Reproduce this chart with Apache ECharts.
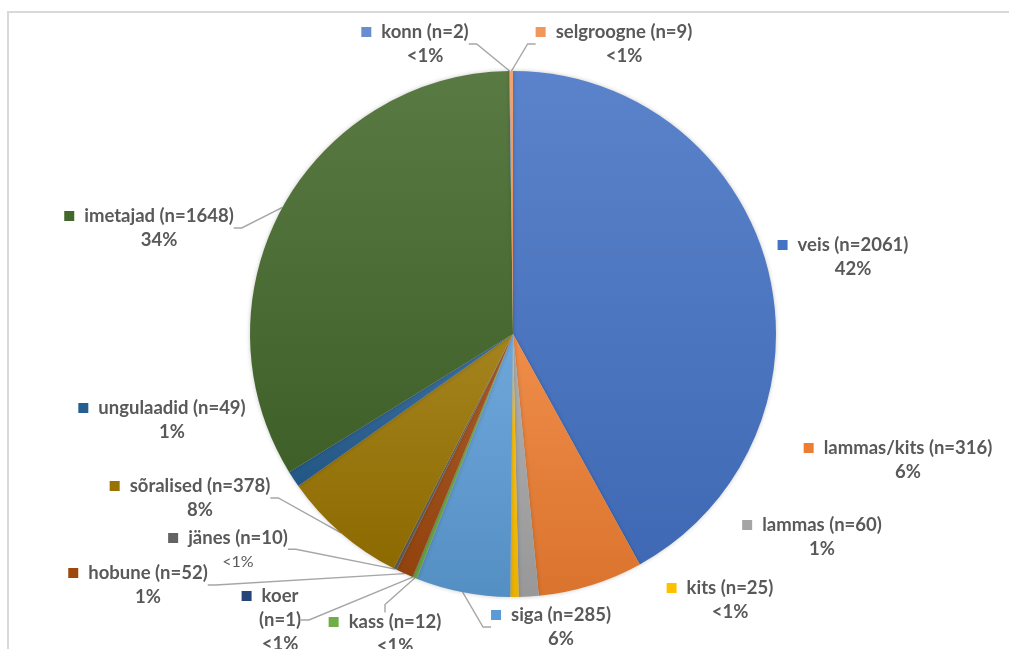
<!DOCTYPE html>
<html><head><meta charset="utf-8">
<script src="https://cdn.jsdelivr.net/npm/echarts@6/dist/echarts.min.js"></script>
<style>html,body{margin:0;padding:0;background:#fff}#c{width:1009px;height:649px}</style>
</head><body><div id="c"></div>
<script>
// ---- data ----
const categories = ['veis','lammas/kits','lammas','kits','siga','kass','koer','hobune','jänes','sõralised','ungulaadid','imetajad','konn','selgroogne'];
const counts = [2061,316,60,25,285,12,1,52,10,378,49,1648,2,9];
const percentLabels = ['42%','6%','1%','<1%','6%','<1%','<1%','1%','<1%','8%','1%','34%','<1%','<1%'];
const colors = ['#4472C4','#ED7D31','#A5A5A5','#FFC000','#5B9BD5','#70AD47','#264478','#9E480E','#636363','#997300','#255E91','#43682B','#698ED0','#F1975A'];
// label anchor: centre x of the name text, centre y of the first text line
const labelAnchors = [[853,245],[908,448],[822,525],[730,588],[561,615],[395,622],[280,596],[148,573],[238,538],[200,486],[172,408],[159,216],[425,32],[624,32]];
const withLeader = [false,false,false,false,true,true,true,true,true,true,false,true,true,true];
const splitNameLabels = ['koer'];
const regularPctLabels = ['jänes'];

// ---- helpers ----
function mix(hex, target, t){
  const n = parseInt(hex.slice(1),16);
  const r=(n>>16)&255,g=(n>>8)&255,b=n&255;
  const f=v=>Math.round(v+(target-v)*t);
  return 'rgb('+f(r)+','+f(g)+','+f(b)+')';
}
const FONT = 'Lato';
const TXT = '#595959';
const FS = 18.5;
const LH = 24;
const MARK = 10, GAP = 10;

const data = categories.map((name,i)=>{
  const col = colors[i];
  const reg = regularPctLabels.includes(name);
  const rich = {
    m:{width:MARK,height:MARK,backgroundColor:col,verticalAlign:'middle'},
    n:{fontFamily:FONT,fontWeight:'bold',fontSize:FS,color:TXT,lineHeight:LH,padding:[0,0,0,GAP]},
    n2:{fontFamily:FONT,fontWeight:'bold',fontSize:FS,color:TXT,lineHeight:LH,padding:[0,0,0,MARK+GAP]},
    p:{fontFamily:FONT,fontWeight:reg?'normal':'bold',fontSize:reg?16:FS,color:TXT,lineHeight:LH,padding:[0,0,0,MARK+GAP]}
  };
  return {
    name, value: counts[i],
    itemStyle:{color:{type:'linear',x:0,y:0,x2:0,y2:1,colorStops:[
      {offset:0,color:mix(col,255,0.12)},{offset:1,color:mix(col,0,0.08)}]}},
    label:{rich},
    labelLine:{show:withLeader[i]}
  };
});

function labelText(p){
  const i = p.dataIndex;
  const name = categories[i], n = '(n='+counts[i]+')';
  if (splitNameLabels.includes(name))
    return '{m|}{n|'+name+'}\n{n2|'+n+'}\n{p|'+percentLabels[i]+'}';
  return '{m|}{n|'+name+' '+n+'}\n{p|'+percentLabels[i]+'}';
}

const chart = echarts.init(document.getElementById('c'),null,{renderer:'canvas'});
chart.setOption({
  backgroundColor:'#ffffff',
  animation:false,
  graphic:[{type:'rect',shape:{x:8,y:12,width:2000,height:2000},
    style:{fill:'none',stroke:'#d9d9d9',lineWidth:2},silent:true,z:-10}],
  series:[{
    type:'pie',
    center:[513,334],
    radius:263,
    startAngle:90,
    clockwise:true,
    avoidLabelOverlap:false,
    emphasis:{disabled:true},
    itemStyle:{borderWidth:0,shadowBlur:4,shadowColor:'rgba(0,0,0,0.22)'},
    label:{show:true,position:'outside',formatter:labelText,align:'center'},
    labelLine:{show:true,length:10,length2:8,smooth:false,
      lineStyle:{color:'#a6a6a6',width:1.4}},
    labelLayout:function(p){
      const a = labelAnchors[p.dataIndex];
      return {x:a[0]-(MARK+GAP)/2, y:a[1]-LH/2, align:'center', verticalAlign:'top'};
    },
    data
  }]
});
</script></body></html>
